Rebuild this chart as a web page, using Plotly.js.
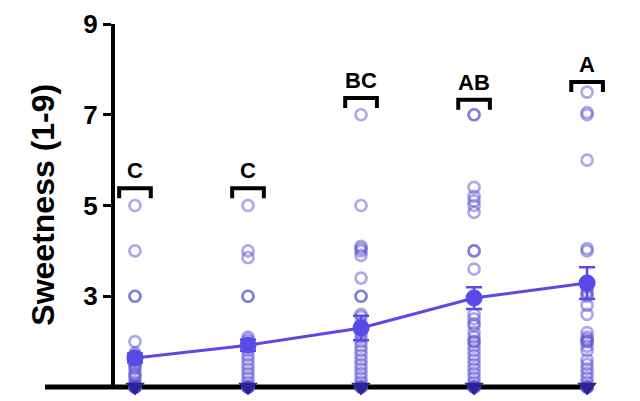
<!DOCTYPE html>
<html>
<head>
<meta charset="utf-8">
<script src="https://cdn.plot.ly/plotly-3.0.1.min.js"></script>
<style>html,body{margin:0;padding:0;background:#fff;}#chart{width:640px;height:401px;}</style>
</head>
<body>
<div id="chart"></div>
<script>
// ---- data ----
const categories = [0, 1, 2, 3, 4];
const group1 = [5, 4, 3, 3, 2, 1.75, 1.7, 1.65, 1.6, 1.55, 1.5, 1.45, 1.4, 1.3, 1.25, 1.2, 1.1, 1.05, 1, 1, 1, 1, 1, 1, 1, 1];
const group2 = [5, 4, 3.85, 3, 3, 2.1, 2.05, 2.0, 1.95, 1.9, 1.8, 1.7, 1.6, 1.5, 1.4, 1.3, 1.2, 1.1, 1, 1, 1, 1, 1, 1];
const group3 = [7, 5, 4.1, 4.05, 4, 3.9, 3.4, 3, 3, 2.6, 2.55, 2.4, 2.3, 2.2, 2.1, 2.0, 1.9, 1.8, 1.7, 1.6, 1.5, 1.4, 1.3, 1.2, 1.1, 1, 1, 1, 1];
const group4 = [7, 7, 5.4, 5.2, 5.1, 5.0, 4.85, 4, 4, 3.6, 2.6, 2.5, 2.4, 2.35, 2.2, 2.1, 2, 2, 1.9, 1.8, 1.7, 1.6, 1.5, 1.4, 1.3, 1.2, 1.1, 1, 1, 1, 1];
const group5 = [7.5, 7.05, 7, 6, 4.05, 4, 3.2, 3.1, 3.05, 3.0, 2.8, 2.6, 2.2, 2.1, 2.05, 2, 2, 1.9, 1.8, 1.6, 1.5, 1.4, 1.3, 1.2, 1.1, 1, 1, 1, 1];
const means = [1.64, 1.92, 2.3, 2.96, 3.29];
const errors = [0.1, 0.12, 0.27, 0.24, 0.35];
const letters = ['C', 'C', 'BC', 'AB', 'A'];
const bracketY = [5.38, 5.38, 7.37, 7.33, 7.72];
const yTicks = [3, 5, 7, 9];
const yTitle = 'Sweetness (1-9)';

// ---- build ----
const groups = [group1, group2, group3, group4, group5];
const pointColor = 'rgba(92,82,210,0.5)';
const meanColor = 'rgb(88,74,230)';
const floorColor = 'rgb(45,35,150)';

const traces = groups.map((g, i) => ({
  type: 'scatter', mode: 'markers',
  x: g.map(() => categories[i]), y: g,
  cliponaxis: false,
  marker: {symbol: 'circle-open', size: 11, color: pointColor, line: {width: 2.7, color: pointColor}},
  hoverinfo: 'y', showlegend: false
}));

traces.push({
  type: 'scatter', mode: 'markers',
  x: categories, y: groups.map(g => Math.min(...g)), cliponaxis: false,
  marker: {symbol: 'triangle-down', size: 17, color: floorColor},
  showlegend: false
});

traces.push({
  type: 'scatter', mode: 'lines+markers',
  x: categories, y: means, cliponaxis: false,
  line: {color: meanColor, width: 3},
  marker: {size: 17, color: meanColor},
  error_y: {type: 'data', array: errors, visible: true, color: meanColor, thickness: 2.5, width: 8},
  showlegend: false
});

const half = 0.14, drop = 0.22;
const shapes = categories.map((c, i) => ({
  type: 'path', xref: 'x', yref: 'y',
  path: `M ${c - half} ${bracketY[i] - drop} L ${c - half} ${bracketY[i]} L ${c + half} ${bracketY[i]} L ${c + half} ${bracketY[i] - drop}`,
  line: {color: '#000', width: 4}
}));
// x axis baseline (stops short of the right edge, as in the reference)
shapes.push({type: 'line', xref: 'paper', yref: 'paper', x0: 0, x1: 0.946, y0: 0, y1: 0,
             line: {color: '#000', width: 5}, layer: 'below'});

const annotations = categories.map((c, i) => ({
  x: c, y: bracketY[i], xref: 'x', yref: 'y', text: letters[i],
  showarrow: false, yanchor: 'bottom', yshift: 3,
  font: {family: 'Liberation Sans, Arial, sans-serif', size: 22, color: '#000', weight: 'bold'}
}));
annotations.push({
  xref: 'paper', yref: 'paper', x: -0.003, y: 0.503, text: '<b>' + yTitle + '</b>',
  textangle: -90, showarrow: false, xanchor: 'center', yanchor: 'middle',
  font: {family: 'Liberation Sans, Arial, sans-serif', size: 32, color: '#000'}
});

const layout = {
  width: 640, height: 401,
  margin: {l: 45, r: 19, t: 24, b: 14},
  paper_bgcolor: '#fff', plot_bgcolor: '#fff',
  xaxis: {range: [-0.796, 4.3], showgrid: false, zeroline: false, showticklabels: false,
          ticks: '', showline: false, fixedrange: true},
  yaxis: {range: [1, 9], tickvals: yTicks, ticktext: yTicks.map(String), anchor: 'free', position: 0.118,
          showgrid: false, zeroline: false, showline: true, linecolor: '#000', linewidth: 4,
          ticks: 'outside', ticklen: 8, tickwidth: 3, tickcolor: '#000',
          tickfont: {family: 'Liberation Sans, Arial, sans-serif', size: 26, color: '#000', weight: 'bold'}},
  shapes: shapes, annotations: annotations, showlegend: false
};

Plotly.newPlot('chart', traces, layout, {displayModeBar: false, staticPlot: true});
</script>
</body>
</html>
